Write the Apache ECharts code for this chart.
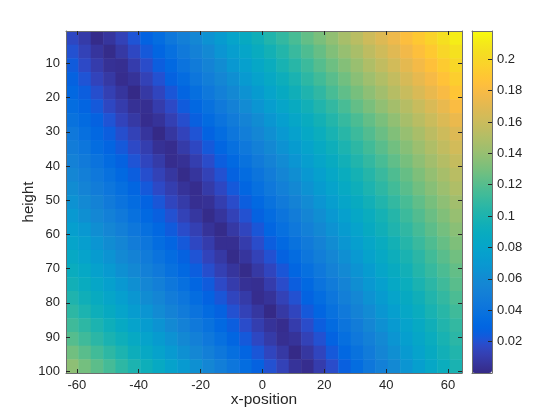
<!DOCTYPE html>
<html>
<head>
<meta charset="utf-8">
<title>height vs x-position</title>
<script src="https://cdn.jsdelivr.net/npm/echarts@6/dist/echarts.min.js"></script>
<style>
  html, body { margin: 0; padding: 0; background: #fff; }
  #chart { width: 560px; height: 420px; }
</style>
</head>
<body>
<div id="chart"></div>
<script>
// tick labels
const xTicks = [-60, -40, -20, 0, 20, 40, 60]
const yTicks = [10, 20, 30, 40, 50, 60, 70, 80, 90, 100]
const cbTicks = [0.02, 0.04, 0.06, 0.08, 0.1, 0.12, 0.14, 0.16, 0.18, 0.2]

// cell centres (x-position, height)
const xCenters = [-61.5, -57.5, -53.5, -49.5, -45.5, -41.5, -37.5, -33.5, -29.5, -25.5, -21.5, -17.5, -13.5, -9.5, -5.5, -1.5,
  2.5, 6.5, 10.5, 14.5, 18.5, 22.5, 26.5, 30.5, 34.5, 38.5, 42.5, 46.5, 50.5, 54.5, 58.5, 62.5]
const yCenters = [2.5, 6.5, 10.5, 14.5, 18.5, 22.5, 26.5, 30.5, 34.5, 38.5, 42.5, 46.5, 50.5,
  54.5, 58.5, 62.5, 66.5, 70.5, 74.5, 78.5, 82.5, 86.5, 90.5, 94.5, 98.5]

// values, one row per height
const zRows = [
  [0.016, 0.009, 0.001, 0.006, 0.013, 0.021, 0.028, 0.035, 0.043, 0.050, 0.057, 0.065, 0.072, 0.080, 0.087, 0.094, 0.102, 0.109, 0.116, 0.124, 0.131, 0.138, 0.146, 0.153, 0.161, 0.168, 0.175, 0.183, 0.190, 0.197, 0.205, 0.212],
  [0.020, 0.013, 0.006, 0.001, 0.008, 0.016, 0.023, 0.030, 0.037, 0.045, 0.052, 0.059, 0.067, 0.074, 0.081, 0.089, 0.096, 0.103, 0.111, 0.118, 0.125, 0.133, 0.140, 0.147, 0.155, 0.162, 0.169, 0.177, 0.184, 0.191, 0.199, 0.206],
  [0.024, 0.017, 0.010, 0.004, 0.003, 0.010, 0.018, 0.025, 0.032, 0.040, 0.047, 0.054, 0.061, 0.069, 0.076, 0.083, 0.090, 0.098, 0.105, 0.112, 0.120, 0.127, 0.134, 0.141, 0.149, 0.156, 0.163, 0.171, 0.178, 0.185, 0.192, 0.200],
  [0.027, 0.021, 0.014, 0.008, 0.002, 0.005, 0.013, 0.020, 0.027, 0.034, 0.042, 0.049, 0.056, 0.063, 0.071, 0.078, 0.085, 0.092, 0.099, 0.107, 0.114, 0.121, 0.128, 0.136, 0.143, 0.150, 0.157, 0.165, 0.172, 0.179, 0.186, 0.194],
  [0.031, 0.025, 0.019, 0.012, 0.006, 0.000, 0.008, 0.015, 0.022, 0.029, 0.036, 0.044, 0.051, 0.058, 0.065, 0.072, 0.080, 0.087, 0.094, 0.101, 0.108, 0.116, 0.123, 0.130, 0.137, 0.144, 0.152, 0.159, 0.166, 0.173, 0.180, 0.188],
  [0.035, 0.029, 0.023, 0.016, 0.010, 0.004, 0.003, 0.010, 0.017, 0.024, 0.031, 0.038, 0.045, 0.052, 0.060, 0.067, 0.074, 0.081, 0.088, 0.095, 0.102, 0.109, 0.116, 0.124, 0.131, 0.138, 0.145, 0.152, 0.159, 0.166, 0.173, 0.181],
  [0.039, 0.033, 0.027, 0.021, 0.014, 0.008, 0.002, 0.005, 0.012, 0.019, 0.026, 0.033, 0.040, 0.047, 0.054, 0.061, 0.068, 0.075, 0.082, 0.089, 0.096, 0.103, 0.110, 0.117, 0.124, 0.131, 0.138, 0.146, 0.153, 0.160, 0.167, 0.174],
  [0.044, 0.037, 0.031, 0.025, 0.019, 0.013, 0.006, 0.000, 0.007, 0.014, 0.021, 0.028, 0.035, 0.042, 0.049, 0.056, 0.063, 0.070, 0.077, 0.084, 0.091, 0.098, 0.105, 0.112, 0.119, 0.126, 0.133, 0.140, 0.147, 0.154, 0.161, 0.168],
  [0.048, 0.042, 0.035, 0.029, 0.023, 0.017, 0.011, 0.004, 0.002, 0.009, 0.016, 0.023, 0.030, 0.037, 0.044, 0.051, 0.058, 0.065, 0.072, 0.079, 0.086, 0.093, 0.100, 0.107, 0.114, 0.121, 0.128, 0.135, 0.142, 0.149, 0.156, 0.163],
  [0.052, 0.046, 0.040, 0.033, 0.027, 0.021, 0.015, 0.009, 0.002, 0.004, 0.011, 0.018, 0.025, 0.032, 0.039, 0.046, 0.053, 0.060, 0.067, 0.074, 0.081, 0.088, 0.095, 0.102, 0.109, 0.116, 0.123, 0.130, 0.137, 0.144, 0.151, 0.158],
  [0.056, 0.050, 0.044, 0.038, 0.032, 0.025, 0.019, 0.013, 0.007, 0.001, 0.006, 0.013, 0.020, 0.027, 0.034, 0.041, 0.048, 0.055, 0.062, 0.069, 0.076, 0.083, 0.090, 0.097, 0.104, 0.111, 0.118, 0.125, 0.132, 0.139, 0.146, 0.153],
  [0.061, 0.054, 0.048, 0.042, 0.036, 0.030, 0.023, 0.017, 0.011, 0.005, 0.002, 0.009, 0.016, 0.023, 0.030, 0.037, 0.044, 0.051, 0.058, 0.065, 0.072, 0.079, 0.086, 0.093, 0.100, 0.107, 0.114, 0.121, 0.128, 0.135, 0.142, 0.149],
  [0.065, 0.059, 0.053, 0.046, 0.040, 0.034, 0.028, 0.022, 0.015, 0.009, 0.003, 0.004, 0.011, 0.018, 0.025, 0.032, 0.039, 0.046, 0.053, 0.060, 0.067, 0.074, 0.081, 0.088, 0.095, 0.102, 0.109, 0.116, 0.123, 0.130, 0.137, 0.144],
  [0.070, 0.063, 0.057, 0.051, 0.045, 0.038, 0.032, 0.026, 0.020, 0.013, 0.007, 0.001, 0.006, 0.013, 0.020, 0.027, 0.034, 0.041, 0.048, 0.055, 0.062, 0.069, 0.076, 0.083, 0.090, 0.097, 0.104, 0.112, 0.119, 0.126, 0.133, 0.140],
  [0.075, 0.069, 0.062, 0.056, 0.050, 0.043, 0.037, 0.031, 0.024, 0.018, 0.012, 0.005, 0.001, 0.008, 0.015, 0.022, 0.030, 0.037, 0.044, 0.051, 0.058, 0.065, 0.072, 0.079, 0.087, 0.094, 0.101, 0.108, 0.115, 0.122, 0.129, 0.136],
  [0.080, 0.074, 0.067, 0.061, 0.055, 0.048, 0.042, 0.035, 0.029, 0.023, 0.016, 0.010, 0.003, 0.003, 0.010, 0.018, 0.025, 0.032, 0.039, 0.046, 0.053, 0.061, 0.068, 0.075, 0.082, 0.089, 0.096, 0.104, 0.111, 0.118, 0.125, 0.132],
  [0.085, 0.079, 0.072, 0.066, 0.059, 0.053, 0.047, 0.040, 0.034, 0.027, 0.021, 0.014, 0.008, 0.001, 0.006, 0.013, 0.020, 0.027, 0.034, 0.042, 0.049, 0.056, 0.063, 0.070, 0.078, 0.085, 0.092, 0.099, 0.106, 0.114, 0.121, 0.128],
  [0.090, 0.084, 0.077, 0.071, 0.064, 0.058, 0.051, 0.045, 0.038, 0.032, 0.025, 0.019, 0.012, 0.006, 0.001, 0.008, 0.015, 0.022, 0.030, 0.037, 0.044, 0.052, 0.059, 0.066, 0.073, 0.081, 0.088, 0.095, 0.103, 0.110, 0.117, 0.124],
  [0.095, 0.089, 0.082, 0.076, 0.069, 0.063, 0.056, 0.050, 0.043, 0.037, 0.030, 0.024, 0.017, 0.010, 0.004, 0.003, 0.010, 0.018, 0.025, 0.032, 0.040, 0.047, 0.054, 0.062, 0.069, 0.076, 0.084, 0.091, 0.099, 0.106, 0.113, 0.121],
  [0.101, 0.094, 0.088, 0.081, 0.075, 0.068, 0.061, 0.055, 0.048, 0.042, 0.035, 0.028, 0.022, 0.015, 0.009, 0.002, 0.005, 0.013, 0.020, 0.028, 0.035, 0.042, 0.050, 0.057, 0.065, 0.072, 0.080, 0.087, 0.094, 0.102, 0.109, 0.117],
  [0.107, 0.100, 0.093, 0.087, 0.080, 0.073, 0.067, 0.060, 0.053, 0.047, 0.040, 0.033, 0.027, 0.020, 0.013, 0.007, 0.000, 0.008, 0.015, 0.023, 0.030, 0.038, 0.045, 0.053, 0.060, 0.068, 0.075, 0.083, 0.090, 0.098, 0.105, 0.113],
  [0.113, 0.107, 0.100, 0.093, 0.086, 0.079, 0.073, 0.066, 0.059, 0.052, 0.045, 0.039, 0.032, 0.025, 0.018, 0.011, 0.005, 0.002, 0.010, 0.018, 0.025, 0.033, 0.041, 0.048, 0.056, 0.064, 0.071, 0.079, 0.086, 0.094, 0.102, 0.109],
  [0.120, 0.113, 0.106, 0.099, 0.093, 0.086, 0.079, 0.072, 0.065, 0.058, 0.051, 0.044, 0.037, 0.030, 0.023, 0.016, 0.009, 0.003, 0.005, 0.013, 0.020, 0.028, 0.036, 0.044, 0.051, 0.059, 0.067, 0.075, 0.082, 0.090, 0.098, 0.106],
  [0.128, 0.121, 0.114, 0.107, 0.100, 0.092, 0.085, 0.078, 0.071, 0.064, 0.057, 0.050, 0.043, 0.036, 0.029, 0.022, 0.015, 0.008, 0.000, 0.007, 0.015, 0.023, 0.031, 0.039, 0.047, 0.055, 0.063, 0.071, 0.079, 0.087, 0.095, 0.102],
  [0.137, 0.129, 0.122, 0.115, 0.107, 0.100, 0.093, 0.086, 0.078, 0.071, 0.064, 0.056, 0.049, 0.042, 0.035, 0.027, 0.020, 0.013, 0.005, 0.002, 0.010, 0.018, 0.026, 0.035, 0.043, 0.051, 0.059, 0.067, 0.075, 0.083, 0.091, 0.099]
]

// colour range of the colorbar
const zMin = 0
const zMax = 0.218

// parula colormap (64 steps)
const parula = [
  [0.2081, 0.1663, 0.5292], [0.2116, 0.1898, 0.5777], [0.2123, 0.2138, 0.6270], [0.2081, 0.2386, 0.6771],
  [0.1959, 0.2645, 0.7279], [0.1707, 0.2919, 0.7792], [0.1253, 0.3242, 0.8303], [0.0591, 0.3598, 0.8683],
  [0.0117, 0.3875, 0.8820], [0.0060, 0.4086, 0.8828], [0.0165, 0.4266, 0.8786], [0.0329, 0.4430, 0.8720],
  [0.0498, 0.4586, 0.8641], [0.0629, 0.4737, 0.8554], [0.0723, 0.4887, 0.8467], [0.0779, 0.5040, 0.8384],
  [0.0793, 0.5200, 0.8312], [0.0749, 0.5375, 0.8263], [0.0641, 0.5570, 0.8240], [0.0488, 0.5772, 0.8228],
  [0.0343, 0.5966, 0.8199], [0.0265, 0.6137, 0.8135], [0.0239, 0.6287, 0.8038], [0.0231, 0.6418, 0.7913],
  [0.0228, 0.6535, 0.7768], [0.0267, 0.6642, 0.7607], [0.0384, 0.6743, 0.7436], [0.0590, 0.6838, 0.7254],
  [0.0843, 0.6928, 0.7062], [0.1133, 0.7015, 0.6859], [0.1453, 0.7098, 0.6646], [0.1801, 0.7177, 0.6424],
  [0.2178, 0.7250, 0.6193], [0.2586, 0.7317, 0.5954], [0.3022, 0.7376, 0.5712], [0.3482, 0.7424, 0.5473],
  [0.3953, 0.7459, 0.5244], [0.4420, 0.7481, 0.5033], [0.4871, 0.7491, 0.4840], [0.5300, 0.7491, 0.4661],
  [0.5709, 0.7485, 0.4494], [0.6099, 0.7473, 0.4337], [0.6473, 0.7456, 0.4188], [0.6834, 0.7435, 0.4044],
  [0.7184, 0.7411, 0.3905], [0.7525, 0.7384, 0.3768], [0.7858, 0.7356, 0.3633], [0.8185, 0.7327, 0.3498],
  [0.8507, 0.7299, 0.3360], [0.8824, 0.7274, 0.3217], [0.9139, 0.7258, 0.3063], [0.9450, 0.7261, 0.2886],
  [0.9739, 0.7314, 0.2666], [0.9938, 0.7455, 0.2403], [0.9990, 0.7653, 0.2164], [0.9955, 0.7861, 0.1967],
  [0.9880, 0.8066, 0.1794], [0.9789, 0.8271, 0.1633], [0.9697, 0.8481, 0.1475], [0.9626, 0.8705, 0.1309],
  [0.9589, 0.8949, 0.1132], [0.9598, 0.9218, 0.0948], [0.9661, 0.9514, 0.0755], [0.9763, 0.9831, 0.0538]
].map(c => 'rgb(' + c.map(v => Math.round(v * 255)).join(',') + ')')

const cellW = 4
const cellH = 4
const ink = '#262626'
const frame = '#6e6e6e'
const font = '"Liberation Sans", Arial, Helvetica, sans-serif'

const cells = []
zRows.forEach((row, r) => {
  row.forEach((v, c) => {
    cells.push([xCenters[c], yCenters[r], v])
  })
})

const axisLine = { show: true, onZero: false, lineStyle: { color: frame, width: 1 } }
const noSplit = { show: false }
const tickLabel = { color: ink, fontSize: 13, fontFamily: font }

function ticks(values) {
  return { show: true, inside: true, length: 4, customValues: values, lineStyle: { color: ink, width: 1 } }
}

const chart = echarts.init(document.getElementById('chart'))

chart.setOption({
  animation: false,
  backgroundColor: '#fff',
  grid: [
    { left: 66, top: 31, width: 396, height: 342 },
    { left: 472, top: 31, width: 20, height: 342 }
  ],
  xAxis: [
    {
      gridIndex: 0, type: 'value', position: 'bottom', min: -63.5, max: 64.5, z: 3,
      axisLine, axisTick: ticks(xTicks), splitLine: noSplit,
      axisLabel: { customValues: xTicks, margin: 6, ...tickLabel },
      name: 'x-position', nameLocation: 'middle', nameGap: 19, nameMoveOverlap: false,
      nameTextStyle: { color: ink, fontSize: 15.5, fontFamily: font, verticalAlign: 'top' }
    },
    {
      gridIndex: 0, type: 'value', position: 'top', min: -63.5, max: 64.5, z: 3,
      axisLine, axisTick: ticks(xTicks), axisLabel: { show: false }, splitLine: noSplit
    },
    {
      gridIndex: 1, type: 'value', position: 'bottom', min: 0, max: 1, z: 5,
      axisLine, axisTick: { show: false }, axisLabel: { show: false }, splitLine: noSplit
    },
    {
      gridIndex: 1, type: 'value', position: 'top', min: 0, max: 1, z: 5,
      axisLine, axisTick: { show: false }, axisLabel: { show: false }, splitLine: noSplit
    }
  ],
  yAxis: [
    {
      gridIndex: 0, type: 'value', position: 'left', inverse: true, min: 0.5, max: 100.5, z: 3,
      axisLine, axisTick: ticks(yTicks), splitLine: noSplit,
      axisLabel: { customValues: yTicks, margin: 6, ...tickLabel },
      name: 'height', nameLocation: 'middle', nameGap: 30, nameMoveOverlap: false,
      nameTextStyle: { color: ink, fontSize: 15, fontFamily: font }
    },
    {
      gridIndex: 0, type: 'value', position: 'right', inverse: true, min: 0.5, max: 100.5, z: 3,
      axisLine, axisTick: ticks(yTicks), axisLabel: { show: false }, splitLine: noSplit
    },
    {
      gridIndex: 1, type: 'value', position: 'right', min: zMin, max: zMax, z: 5,
      axisLine, axisTick: ticks(cbTicks), splitLine: noSplit,
      axisLabel: { customValues: cbTicks, margin: 5, ...tickLabel }
    },
    {
      gridIndex: 1, type: 'value', position: 'left', min: zMin, max: zMax, z: 5,
      axisLine, axisTick: { show: false }, axisLabel: { show: false }, splitLine: noSplit
    }
  ],
  visualMap: {
    type: 'continuous',
    min: zMin,
    max: zMax,
    dimension: 2,
    seriesIndex: 0,
    orient: 'vertical',
    left: 472,
    top: 31,
    padding: 0,
    itemWidth: 20,
    itemHeight: 342,
    text: null,
    calculable: false,
    hoverLink: false,
    inRange: { color: parula }
  },
  series: [
    {
      type: 'custom',
      coordinateSystem: 'cartesian2d',
      xAxisIndex: 0,
      yAxisIndex: 0,
      data: cells,
      encode: { x: 0, y: 1 },
      clip: true,
      renderItem(params, api) {
        const x = api.value(0)
        const y = api.value(1)
        const a = api.coord([x - cellW / 2, y - cellH / 2])
        const b = api.coord([x + cellW / 2, y + cellH / 2])
        return {
          type: 'rect',
          shape: {
            x: Math.min(a[0], b[0]),
            y: Math.min(a[1], b[1]),
            width: Math.abs(b[0] - a[0]) + 0.5,
            height: Math.abs(b[1] - a[1]) + 0.5
          },
          style: { fill: api.visual('color') }
        }
      }
    }
  ]
})
</script>
</body>
</html>
